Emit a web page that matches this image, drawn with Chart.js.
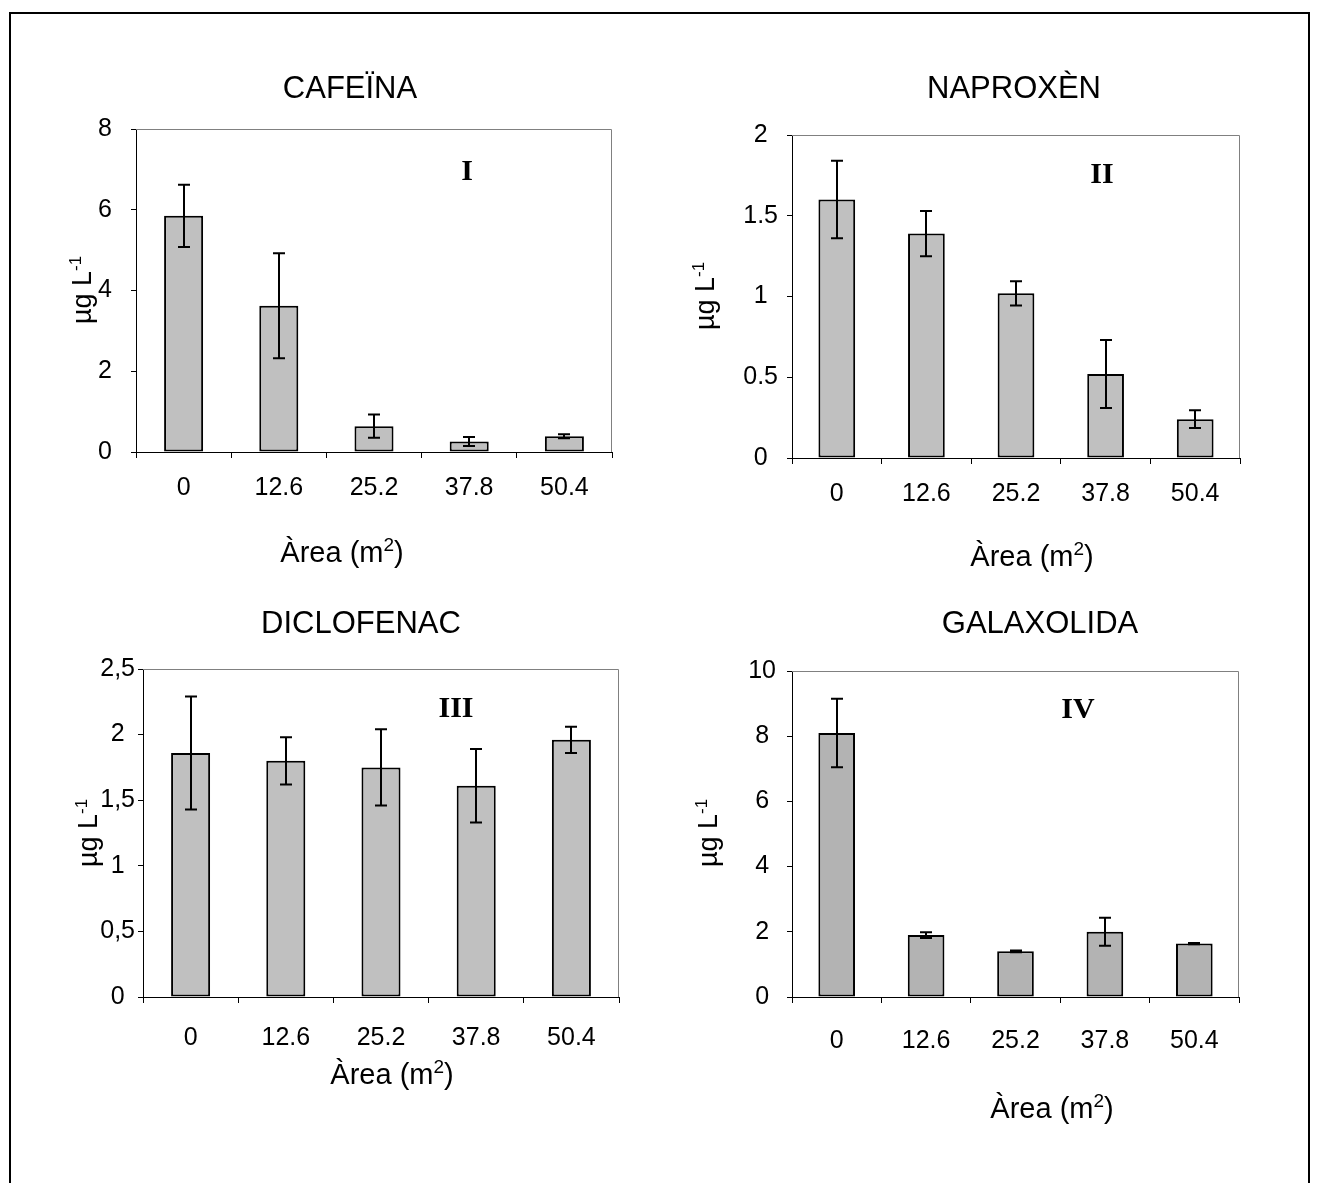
<!DOCTYPE html>
<html>
<head>
<meta charset="utf-8">
<script src="https://cdn.jsdelivr.net/npm/chart.js@4.4.1/dist/chart.umd.min.js"></script>
<style>
  html, body { margin: 0; padding: 0; background: #fff; }
  body { width: 1318px; height: 1183px; position: relative; overflow: hidden; }
  canvas { position: absolute; left: 0; top: 0; }
  #frame { position: absolute; left: 9px; top: 12px; width: 1301px; height: 1300px; border: 2px solid #000; box-sizing: border-box; }
</style>
</head>
<body>
<div id="frame"></div>
<canvas id="c1" width="1318" height="1183"></canvas>
<canvas id="c2" width="1318" height="1183"></canvas>
<canvas id="c3" width="1318" height="1183"></canvas>
<canvas id="c4" width="1318" height="1183"></canvas>
<script>
// ---------- DATA ----------
const categories = ['0', '12.6', '25.2', '37.8', '50.4'];

const cafeinaValues = [5.85, 3.62, 0.64, 0.26, 0.39];
const cafeinaErrors = [0.77, 1.30, 0.29, 0.11, 0.05];
const cafeinaTicks = ['0', '2', '4', '6', '8'];

const naproxenValues = [1.60, 1.39, 1.02, 0.52, 0.24];
const naproxenErrors = [0.24, 0.14, 0.075, 0.21, 0.055];
const naproxenTicks = ['0', '0.5', '1', '1.5', '2'];

const diclofenacValues = [1.86, 1.80, 1.75, 1.61, 1.96];
const diclofenacErrors = [0.43, 0.18, 0.29, 0.28, 0.10];
const diclofenacTicks = ['0', '0,5', '1', '1,5', '2', '2,5'];

const galaxolidaValues = [8.1, 1.9, 1.40, 2.0, 1.64];
const galaxolidaErrors = [1.05, 0.09, 0.03, 0.43, 0.02];
const galaxolidaTicks = ['0', '2', '4', '6', '8', '10'];

const panelTitles = ['CAFEÏNA', 'NAPROXÈN', 'DICLOFENAC', 'GALAXOLIDA'];
const panelNumerals = ['I', 'II', 'III', 'IV'];
const xAxisTitle = ['Àrea (m', '2', ')'];
const yAxisTitle = ['µg L', '-1'];

// ---------- LAYOUT / STYLE ----------
const SANS = "'Liberation Sans', Arial, sans-serif";
const SERIF = "'Liberation Serif', 'Times New Roman', serif";
const Y_W = 80, X_H = 70;

const panels = [
  { id: 'c1', values: cafeinaValues, errors: cafeinaErrors, ticks: cafeinaTicks, max: 8, step: 2,
    area: { l: 136, r: 612, t: 129, b: 452 }, fill: '#c0c0c0', yPad: 19, xPad: 15,
    title: { x: 350, y: 98 }, num: { x: 467, y: 180 }, xt: { x: 342, y: 562 }, yt: { x: 91, y: 290 } },
  { id: 'c2', values: naproxenValues, errors: naproxenErrors, ticks: naproxenTicks, max: 2, step: 0.5,
    area: { l: 792, r: 1240, t: 135, b: 458 }, fill: '#c0c0c0', yPad: 9, xPad: 15,
    title: { x: 1014, y: 98 }, num: { x: 1102, y: 183 }, xt: { x: 1032, y: 566 }, yt: { x: 714, y: 296 } },
  { id: 'c3', values: diclofenacValues, errors: diclofenacErrors, ticks: diclofenacTicks, max: 2.5, step: 0.5,
    area: { l: 143, r: 619, t: 669, b: 997 }, fill: '#c0c0c0', yPad: 3, xPad: 20,
    title: { x: 361, y: 633 }, num: { x: 456, y: 717 }, xt: { x: 392, y: 1084 }, yt: { x: 97, y: 833 } },
  { id: 'c4', values: galaxolidaValues, errors: galaxolidaErrors, ticks: galaxolidaTicks, max: 10, step: 2,
    area: { l: 792, r: 1239, t: 671, b: 997 }, fill: '#b3b3b3', yPad: 11, xPad: 23,
    title: { x: 1040, y: 633 }, num: { x: 1078, y: 718 }, xt: { x: 1052, y: 1118 }, yt: { x: 717, y: 833 } }
];

function drawSup(ctx, parts, size, supSize, rise) {
  ctx.font = size + 'px ' + SANS;
  const w0 = ctx.measureText(parts[0]).width;
  const w2 = parts[2] ? ctx.measureText(parts[2]).width : 0;
  ctx.font = supSize + 'px ' + SANS;
  const w1 = ctx.measureText(parts[1]).width;
  const total = w0 + w1 + w2;
  let x = -total / 2;
  ctx.textAlign = 'left';
  ctx.textBaseline = 'alphabetic';
  ctx.font = size + 'px ' + SANS;
  ctx.fillText(parts[0], x, 0); x += w0;
  ctx.font = supSize + 'px ' + SANS;
  ctx.fillText(parts[1], x, -rise); x += w1;
  if (parts[2]) { ctx.font = size + 'px ' + SANS; ctx.fillText(parts[2], x, 0); }
}

const panelPlugin = {
  id: 'panelDecor',
  beforeDatasetsDraw(chart, args, opts) {
    const ctx = chart.ctx, a = chart.chartArea;
    ctx.save();
    ctx.strokeStyle = '#808080';
    ctx.lineWidth = 1;
    ctx.beginPath();
    ctx.moveTo(a.left, a.top + 0.5);
    ctx.lineTo(a.right - 0.5, a.top + 0.5);
    ctx.lineTo(a.right - 0.5, a.bottom);
    ctx.stroke();
    ctx.restore();
  },
  afterDatasetsDraw(chart, args, opts) {
    const ctx = chart.ctx;
    const p = opts.panel;
    const meta = chart.getDatasetMeta(0);
    const ys = chart.scales.y;
    ctx.save();
    ctx.strokeStyle = '#000';
    ctx.lineWidth = 2;
    meta.data.forEach((bar, i) => {
      const v = p.values[i], e = p.errors[i];
      const x = Math.round(bar.x);
      const yTop = ys.getPixelForValue(v + e);
      const yBot = ys.getPixelForValue(Math.max(0, v - e));
      ctx.beginPath();
      ctx.moveTo(x, yTop); ctx.lineTo(x, yBot);
      ctx.moveTo(x - 6, yTop); ctx.lineTo(x + 6, yTop);
      ctx.moveTo(x - 6, yBot); ctx.lineTo(x + 6, yBot);
      ctx.stroke();
    });
    ctx.restore();
  },
  afterDraw(chart, args, opts) {
    const ctx = chart.ctx;
    const p = opts.panel;
    ctx.save();
    ctx.fillStyle = '#000';
    ctx.font = '31px ' + SANS;
    ctx.textAlign = 'center';
    ctx.textBaseline = 'alphabetic';
    ctx.fillText(opts.title, p.title.x, p.title.y);
    ctx.font = 'bold 30px ' + SERIF;
    ctx.fillText(opts.numeral, p.num.x, p.num.y);
    ctx.save();
    ctx.translate(p.xt.x, p.xt.y);
    drawSup(ctx, xAxisTitle, 29, 19, 11);
    ctx.restore();
    ctx.save();
    ctx.translate(p.yt.x, p.yt.y);
    ctx.rotate(-Math.PI / 2);
    drawSup(ctx, [yAxisTitle[0], yAxisTitle[1], ''], 27, 17, 10);
    ctx.restore();
    ctx.restore();
  }
};

panels.forEach((p, idx) => {
  const ctx = document.getElementById(p.id).getContext('2d');
  new Chart(ctx, {
    type: 'bar',
    data: {
      labels: categories,
      datasets: [{
        data: p.values,
        backgroundColor: p.fill,
        borderColor: '#000',
        borderWidth: 2,
        borderSkipped: false,
        barPercentage: 0.41,
        categoryPercentage: 1.0
      }]
    },
    options: {
      responsive: false,
      animation: false,
      devicePixelRatio: 1,
      layout: {
        padding: {
          left: p.area.l - Y_W,
          right: 1318 - p.area.r,
          top: p.area.t,
          bottom: 1183 - p.area.b - X_H
        }
      },
      plugins: {
        legend: { display: false },
        tooltip: { enabled: false },
        title: { display: false },
        panelDecor: { panel: p, title: panelTitles[idx], numeral: panelNumerals[idx] }
      },
      scales: {
        x: {
          afterFit: (s) => { s.height = X_H; },
          grid: { display: true, offset: true, drawOnChartArea: false, drawTicks: true, tickLength: 6, color: '#000', lineWidth: 1 },
          border: { display: true, color: '#000', width: 1 },
          ticks: { color: '#000', font: { family: SANS, size: 25 }, padding: p.xPad, maxRotation: 0 }
        },
        y: {
          min: 0, max: p.max,
          afterFit: (s) => { s.width = Y_W; },
          grid: { display: true, drawOnChartArea: false, drawTicks: true, tickLength: 5, color: '#000', lineWidth: 1 },
          border: { display: true, color: '#000', width: 1 },
          ticks: {
            stepSize: p.step,
            color: '#000',
            crossAlign: 'center',
            padding: p.yPad,
            font: { family: SANS, size: 25 },
            callback: (value, index) => p.ticks[index]
          }
        }
      }
    },
    plugins: [panelPlugin]
  });
});
</script>
</body>
</html>
